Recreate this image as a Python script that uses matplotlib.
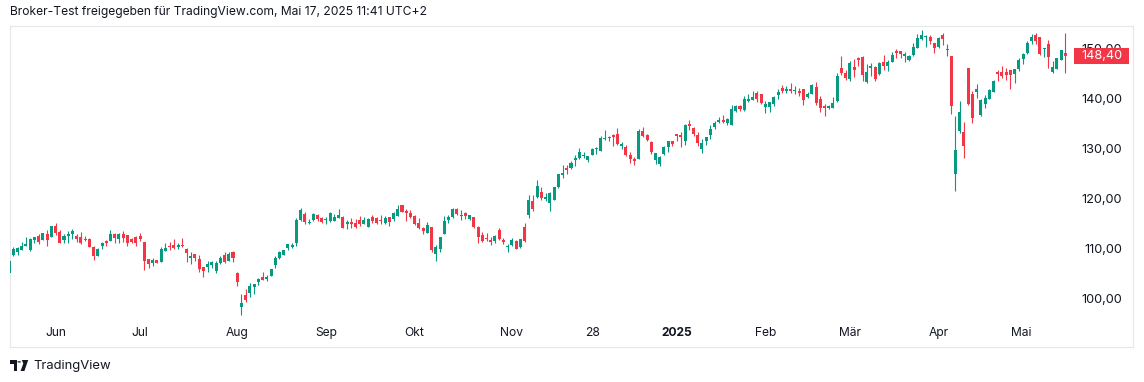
import matplotlib
matplotlib.use("Agg")
import matplotlib.pyplot as plt
from matplotlib.patches import Rectangle, Polygon, Circle
import matplotlib.transforms as mtransforms
import numpy as np

W, H, DPI = 1144, 382, 100

# ---- data (daily candles) ----
open_ = [105.1,
    108.7, 109.2, 109.7, 110.5, 109.7, 111.7, 112.5, 111.7, 112.9, 112.3,
    114.4, 113.2, 111.7, 112.5, 112.9, 112.5, 112.3, 111.9, 111.9, 110.3,
    108.4, 110.5, 111.5, 111.5, 112.9, 111.9, 112.9, 112.7, 111.9, 112.3,
    112.5, 111.3, 107.9, 107.1, 107.7, 107.3, 109.4, 110.5, 110.7, 110.3,
    110.7, 109.9, 108.1, 108.9, 107.9, 106.3, 106.3, 106.7, 105.5, 107.1,
    108.7, 107.5, 109.3, 105.1, 98.2, 100.6, 101.0, 102.2, 103.2, 104.3,
    103.8, 104.5, 106.7, 108.1, 108.7, 110.1, 110.3, 111.1, 115.7, 116.9,
    115.0, 115.7, 116.6, 116.1, 115.7, 115.5, 115.5, 116.1, 116.3, 114.8,
    115.3, 115.0, 115.7, 114.9, 114.3, 116.3, 116.1, 115.7, 115.0, 116.3,
    115.9, 116.5, 118.7, 117.5, 117.1, 116.5, 115.0, 114.0, 113.1, 114.2,
    108.8, 109.9, 112.9, 115.7, 116.3, 117.9, 116.5, 117.1, 115.9, 116.3,
    114.2, 112.6, 112.0, 111.7, 111.5, 113.6, 111.7, 110.3, 110.7, 111.5,
    110.3, 114.2, 116.7, 119.5, 120.3, 121.2, 119.9, 119.1, 119.7, 122.2,
    124.6, 126.1, 126.1, 127.7, 128.1, 128.5, 127.7, 128.7, 129.8, 129.5,
    131.8, 132.0, 132.6, 132.8, 130.4, 130.2, 128.7, 127.9, 127.9, 133.4,
    132.6, 131.2, 127.7, 126.9, 128.9, 130.2, 131.4, 132.8, 132.6, 131.4,
    134.8, 134.0, 132.6, 129.8, 131.5, 132.6, 134.2, 135.3, 135.7, 135.0,
    134.6, 137.5, 138.4, 137.7, 139.4, 139.6, 141.0, 140.8, 138.2, 138.2,
    138.8, 140.6, 142.0, 141.4, 141.8, 141.4, 141.4, 141.8, 140.2, 140.8,
    142.3, 139.8, 138.4, 138.0, 138.0, 139.4, 146.0, 145.1, 143.9, 146.2,
    148.0, 148.2, 143.3, 146.1, 146.2, 144.9, 147.2, 146.4, 147.2, 149.4,
    149.4, 148.4, 147.6, 148.6, 150.1, 151.9, 152.3, 152.3, 151.1, 150.2,
    152.7, 149.6, 148.4, 124.9, 133.4, 133.2, 146.1, 140.8, 141.2, 136.7,
    138.8, 139.8, 141.2, 145.3, 145.3, 145.3, 145.7, 144.9, 145.9, 147.8,
    149.0, 151.5, 152.7, 152.3, 149.9, 150.9, 145.3, 145.9, 147.6, 149.0]

high = [107.5,
    110.2, 110.3, 111.3, 112.3, 112.1, 112.3, 112.9, 113.0, 113.6, 114.4,
    115.0, 113.6, 112.9, 113.5, 113.8, 112.9, 113.2, 112.5, 112.1, 110.5,
    110.1, 111.3, 111.7, 113.7, 113.0, 113.1, 113.4, 112.7, 112.1, 112.5,
    113.0, 111.3, 107.9, 108.1, 107.7, 110.3, 111.1, 111.3, 111.9, 111.1,
    112.0, 110.1, 109.2, 108.9, 108.7, 106.3, 107.4, 107.5, 107.5, 108.4,
    109.3, 109.3, 109.5, 105.3, 100.8, 101.8, 103.0, 102.9, 104.1, 105.3,
    104.7, 105.9, 108.5, 109.5, 109.7, 110.9, 111.1, 116.1, 118.1, 117.3,
    115.9, 117.1, 116.8, 116.3, 116.3, 117.3, 116.9, 117.9, 116.5, 115.7,
    116.1, 115.9, 116.5, 116.3, 116.1, 116.7, 116.3, 116.7, 116.5, 116.3,
    117.3, 118.7, 118.7, 117.9, 117.7, 116.7, 116.1, 114.2, 115.2, 114.2,
    110.7, 112.3, 116.5, 116.7, 118.1, 118.1, 117.7, 117.3, 116.7, 116.3,
    114.4, 113.2, 113.0, 112.3, 112.6, 114.0, 112.1, 110.9, 112.1, 111.7,
    111.9, 115.0, 120.7, 120.7, 123.6, 122.2, 121.1, 121.3, 122.2, 124.8,
    126.7, 126.7, 127.5, 128.7, 130.0, 129.3, 128.5, 130.0, 130.2, 132.4,
    133.6, 132.4, 132.8, 134.0, 131.2, 130.6, 129.3, 128.3, 133.8, 134.2,
    132.8, 131.4, 129.1, 128.5, 130.4, 131.4, 131.4, 132.8, 133.2, 134.8,
    135.7, 134.2, 133.3, 131.8, 132.3, 134.7, 135.5, 136.3, 136.7, 136.1,
    138.6, 138.6, 138.6, 140.4, 140.8, 141.4, 141.4, 140.8, 139.4, 139.2,
    140.4, 141.8, 142.6, 142.4, 143.0, 142.4, 142.0, 141.8, 141.2, 142.9,
    143.3, 140.4, 138.8, 138.6, 140.2, 145.1, 148.4, 145.7, 147.4, 147.8,
    148.2, 148.4, 146.8, 147.0, 146.4, 147.2, 148.6, 147.6, 149.2, 149.8,
    149.4, 149.2, 148.6, 151.1, 152.9, 153.7, 152.6, 152.7, 151.1, 152.3,
    153.1, 150.9, 148.4, 136.5, 139.4, 135.2, 146.1, 141.4, 142.9, 139.8,
    140.6, 141.8, 143.7, 145.7, 146.4, 146.1, 145.7, 145.9, 148.0, 149.0,
    151.5, 152.9, 153.1, 152.3, 150.0, 151.7, 147.4, 148.0, 149.6, 153.0]

low = [105.0,
    108.5, 108.6, 109.7, 110.5, 109.4, 111.1, 110.9, 111.7, 110.5, 112.3,
    112.6, 111.1, 111.0, 111.1, 111.9, 111.3, 110.9, 111.5, 110.2, 107.7,
    108.4, 109.9, 110.5, 111.5, 111.1, 111.1, 111.3, 110.5, 111.1, 110.5,
    111.5, 105.6, 106.0, 106.4, 107.0, 107.3, 109.4, 109.6, 109.8, 109.9,
    110.2, 107.3, 106.9, 107.5, 105.3, 104.3, 105.3, 106.0, 105.1, 106.9,
    107.1, 107.5, 107.3, 102.4, 96.6, 99.2, 100.2, 100.8, 102.6, 103.6,
    103.4, 104.5, 106.1, 107.9, 108.7, 109.7, 110.1, 110.5, 115.5, 114.8,
    114.8, 115.5, 115.5, 115.0, 114.8, 115.3, 115.5, 116.1, 114.0, 113.8,
    114.1, 114.1, 114.5, 114.9, 114.3, 115.0, 114.9, 114.9, 114.9, 114.5,
    115.5, 116.5, 117.3, 115.5, 116.1, 114.7, 113.9, 112.9, 113.1, 109.3,
    107.5, 109.3, 112.9, 115.0, 116.1, 116.7, 115.7, 115.9, 115.7, 114.1,
    111.1, 111.3, 111.5, 110.7, 111.1, 111.7, 110.9, 109.3, 110.5, 109.9,
    110.1, 111.3, 116.1, 117.5, 120.1, 119.7, 119.5, 117.5, 119.7, 122.0,
    124.0, 124.8, 125.9, 126.5, 127.9, 128.1, 127.3, 128.7, 128.9, 129.5,
    131.6, 131.4, 130.4, 130.6, 129.8, 128.5, 127.1, 126.7, 127.9, 132.2,
    131.4, 128.9, 126.9, 126.5, 128.7, 129.3, 130.4, 131.4, 130.2, 130.6,
    133.6, 132.4, 130.4, 129.0, 130.6, 131.9, 133.8, 135.1, 135.1, 134.6,
    134.6, 137.3, 137.5, 137.5, 139.2, 139.6, 139.2, 138.8, 137.1, 137.3,
    138.4, 139.8, 141.0, 141.0, 141.0, 140.8, 140.4, 138.6, 140.0, 140.8,
    138.6, 137.3, 136.5, 137.8, 138.0, 139.2, 144.7, 143.7, 143.5, 144.3,
    146.4, 143.5, 143.1, 144.5, 143.5, 144.7, 145.7, 145.5, 147.2, 148.0,
    148.0, 147.2, 147.4, 148.4, 150.1, 151.7, 150.3, 150.9, 149.0, 150.0,
    150.7, 148.4, 136.9, 121.5, 133.0, 128.1, 138.6, 135.1, 140.0, 136.5,
    138.1, 139.8, 141.2, 143.5, 144.1, 143.7, 141.8, 143.1, 145.5, 146.8,
    148.8, 150.9, 150.9, 148.6, 148.2, 146.1, 145.1, 145.9, 147.6, 145.1]

close = [107.4,
    109.9, 110.1, 110.5, 110.9, 111.9, 112.3, 111.3, 113.0, 111.7, 114.4,
    113.0, 111.1, 112.5, 112.9, 113.4, 111.9, 111.1, 111.7, 110.2, 108.5,
    109.9, 111.1, 111.1, 112.9, 112.1, 112.9, 112.1, 111.1, 111.3, 111.1,
    111.9, 107.5, 106.8, 107.6, 107.0, 109.9, 110.1, 110.3, 110.0, 110.7,
    110.5, 109.0, 108.5, 108.1, 105.9, 105.5, 106.9, 107.2, 107.1, 108.1,
    107.3, 108.9, 108.1, 103.2, 99.0, 99.6, 102.4, 102.9, 103.8, 103.6,
    104.3, 105.9, 108.1, 109.2, 109.7, 110.9, 110.7, 115.7, 117.7, 115.3,
    115.3, 116.9, 115.9, 115.3, 115.9, 117.1, 116.3, 116.7, 114.0, 115.3,
    114.9, 114.3, 114.9, 115.7, 115.9, 115.5, 115.0, 115.5, 116.1, 115.3,
    117.1, 117.9, 117.3, 117.1, 116.3, 114.8, 114.1, 113.5, 114.7, 109.7,
    110.3, 112.3, 115.5, 116.3, 117.9, 116.9, 116.7, 116.5, 116.7, 114.2,
    112.3, 111.5, 111.8, 111.3, 112.5, 111.9, 111.3, 110.5, 111.7, 109.9,
    111.9, 111.5, 119.7, 117.9, 122.4, 120.1, 120.3, 121.1, 122.2, 124.8,
    125.1, 125.7, 127.1, 128.1, 129.3, 128.7, 128.5, 129.8, 130.0, 132.0,
    132.0, 132.2, 132.2, 130.8, 130.8, 128.7, 127.9, 127.5, 133.4, 132.4,
    131.6, 129.3, 129.1, 128.3, 130.2, 131.4, 130.8, 132.4, 132.2, 134.6,
    134.4, 132.8, 131.0, 131.1, 132.3, 133.8, 135.1, 135.7, 135.3, 135.9,
    137.8, 138.4, 137.8, 139.8, 139.8, 140.2, 139.8, 139.0, 138.8, 139.2,
    140.2, 141.2, 141.4, 141.8, 141.4, 141.6, 141.0, 139.6, 140.8, 142.7,
    139.0, 138.0, 138.0, 138.4, 139.0, 144.5, 145.1, 144.1, 147.0, 145.7,
    147.6, 144.7, 145.3, 146.4, 143.9, 147.0, 146.4, 147.2, 148.6, 149.0,
    148.8, 148.8, 148.4, 150.3, 152.1, 152.7, 152.5, 151.5, 150.0, 152.1,
    151.9, 149.8, 138.4, 129.6, 137.2, 130.4, 138.8, 136.1, 141.8, 139.6,
    140.0, 141.6, 143.5, 144.9, 144.5, 144.7, 144.7, 145.9, 147.6, 148.8,
    151.1, 152.3, 151.5, 148.8, 150.0, 148.2, 146.3, 148.0, 149.6, 148.4]

month_labels = ["Jun", "Jul", "Aug", "Sep", "Okt", "Nov", "28", "2025",
                "Feb", "Mär", "Apr", "Mai"]
month_pos = [11, 31, 54, 75, 96, 119, 138, 158, 179, 199, 220, 239.5]
price_ticks = [100, 110, 120, 130, 140, 150]
price_labels = ["100,00", "110,00", "120,00", "130,00", "140,00", "150,00"]
last_price = 148.40
last_label = "148,40"
title = "Broker-Test freigegeben für TradingView.com, Mai 17, 2025 11:41 UTC+2"
brand = "TradingView"

# ---- style ----
UP, DOWN = "#089981", "#f23645"
TXT = "#131722"
plt.rcParams['font.family'] = ['Inter', 'DejaVu Sans']

fig = plt.figure(figsize=(W / DPI, H / DPI), dpi=DPI)
fig.patch.set_facecolor("white")


def rect(x0, y0, x1, y1):
    return [x0 / W, 1 - y1 / H, (x1 - x0) / W, (y1 - y0) / H]


ax = fig.add_axes(rect(10, 26, 1133, 347))
ax.set_facecolor("white")

o = np.array(open_)
h = np.array(high)
l = np.array(low)
c = np.array(close)
x = np.arange(len(o))
colors = np.where(c >= o, UP, DOWN)

ax.vlines(x, l, h, colors=colors, linewidth=0.8, zorder=2)
body_bottom = np.minimum(o, c)
body_h = np.maximum(np.abs(c - o), 0.2)
ax.bar(x, body_h, bottom=body_bottom, width=0.72, color=colors,
       linewidth=0, zorder=3)

ax.set_xlim((10 - 9.075) / 4.225, (1133 - 9.075) / 4.225)
ax.set_ylim(150 - (347 - 48.3) / 5.0, 150 + (48.3 - 26) / 5.0)

for s in ax.spines.values():
    s.set_color("#e6e7ea")
    s.set_linewidth(0.8)

# x axis labels (inside frame)
ax.set_xticks(month_pos)
ax.set_xticklabels(month_labels)
ax.tick_params(axis='x', length=0, pad=-10.1, labelsize=8.7, labelcolor=TXT)
for t in ax.get_xticklabels():
    t.set_va('center')
    if t.get_text() == "2025":
        t.set_fontweight('bold')

# y axis labels (inside frame, right)
ax.yaxis.tick_right()
ax.set_yticks(price_ticks)
ax.set_yticklabels(price_labels)
ax.tick_params(axis='y', length=0, pad=-7.9, labelsize=9.2, labelcolor=TXT)
for t in ax.get_yticklabels():
    t.set_ha('right')

# last price tag
trans = mtransforms.blended_transform_factory(ax.transAxes, ax.transData)
bx0 = (1074 - 10) / 1123
bx1 = (1129 - 10) / 1123
ax.add_patch(Rectangle((bx0, last_price - 1.6), bx1 - bx0, 3.2,
                       transform=trans, facecolor=DOWN, edgecolor='none',
                       zorder=10, clip_on=False))
ax.text((1122 - 10) / 1123, last_price, last_label, transform=trans,
        ha='right', va='center', color='white', fontsize=9.2, zorder=11)

# header / footer
fig.text(10 / W, 1 - 12.5 / H, title, ha='left', va='center',
         fontsize=8.7, color=TXT)
fig.text(33 / W, 1 - 366 / H, brand, ha='left', va='center',
         fontsize=9.4, color=TXT)


def fp(xp, yp):
    return (xp / W, 1 - yp / H)


logo = [
    Polygon([fp(10, 360), fp(17, 360), fp(17, 371), fp(13.6, 371),
             fp(13.6, 363.5), fp(10, 363.5)], closed=True),
    Circle(fp(19.2, 361.9), 1.9 / W),
    Polygon([fp(21.8, 360), fp(28.2, 360), fp(24.4, 371), fp(20.6, 371),
             fp(23.3, 363.5)], closed=True),
]
for p in logo:
    p.set_transform(fig.transFigure)
    p.set_facecolor(TXT)
    p.set_edgecolor('none')
    fig.add_artist(p)

fig.savefig("out.png", dpi=DPI, facecolor="white")
